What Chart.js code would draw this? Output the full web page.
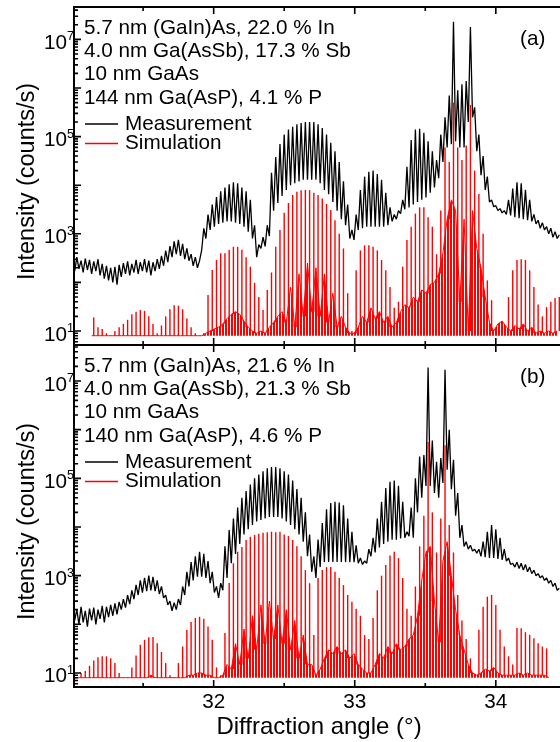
<!DOCTYPE html>
<html>
<head>
<meta charset="utf-8">
<script src="https://cdn.jsdelivr.net/npm/chart.js@4.4.1/dist/chart.umd.min.js"></script>
<style>
  html, body { margin: 0; padding: 0; background: #fff; }
  #wrap { position: relative; width: 560px; height: 742px; overflow: hidden; }
  canvas { position: absolute; left: 0; }
</style>
</head>
<body>
<div id="wrap">
  <canvas id="ca" width="560" height="350" style="top:0"></canvas>
  <canvas id="cb" width="560" height="402" style="top:340px"></canvas>
</div>
<script>
// diffraction angle grid (deg), fringe peaks on even entries, valleys on odd
const angle = [
  31,31.015,31.03,31.045,31.06,31.075,31.09,31.105,31.12,31.135,
  31.15,31.165,31.18,31.195,31.21,31.225,31.24,31.255,31.27,31.285,
  31.3,31.315,31.33,31.345,31.36,31.375,31.39,31.405,31.42,31.435,
  31.45,31.465,31.48,31.495,31.51,31.525,31.54,31.555,31.57,31.585,
  31.6,31.615,31.63,31.645,31.66,31.675,31.69,31.705,31.72,31.735,
  31.75,31.765,31.78,31.795,31.81,31.825,31.84,31.855,31.87,31.885,
  31.9,31.915,31.93,31.945,31.96,31.975,31.99,32.005,32.02,32.035,
  32.05,32.065,32.08,32.095,32.11,32.125,32.14,32.155,32.17,32.185,
  32.2,32.215,32.23,32.245,32.26,32.275,32.29,32.305,32.32,32.335,
  32.35,32.365,32.38,32.395,32.41,32.425,32.44,32.455,32.47,32.485,
  32.5,32.515,32.53,32.545,32.56,32.575,32.59,32.605,32.62,32.635,
  32.65,32.665,32.68,32.695,32.71,32.725,32.74,32.755,32.77,32.785,
  32.8,32.815,32.83,32.845,32.86,32.875,32.89,32.905,32.92,32.935,
  32.95,32.965,32.98,32.995,33.01,33.025,33.04,33.055,33.07,33.085,
  33.1,33.115,33.13,33.145,33.16,33.175,33.19,33.205,33.22,33.235,
  33.25,33.265,33.28,33.295,33.31,33.325,33.34,33.355,33.37,33.385,
  33.4,33.415,33.43,33.445,33.46,33.475,33.49,33.505,33.52,33.535,
  33.55,33.565,33.58,33.595,33.61,33.625,33.64,33.655,33.67,33.685,
  33.7,33.715,33.73,33.745,33.76,33.775,33.79,33.805,33.82,33.835,
  33.85,33.865,33.88,33.895,33.91,33.925,33.94,33.955,33.97,33.985,
  34,34.015,34.03,34.045,34.06,34.075,34.09,34.105,34.12,34.135,
  34.15,34.165,34.18,34.195,34.21,34.225,34.24,34.255,34.27,34.285,
  34.3,34.315,34.33,34.345,34.36,34.375,34.39,34.405,34.42,34.435,
  34.45
];

// panel (a)
const measA = [
  300,170,330,190,280,160,310,180,290,150,
  270,170,300,140,240,120,220,110,200,100,
  210,90,230,130,250,150,270,140,240,160,
  290,150,260,170,300,160,280,140,260,170,
  300,190,350,220,450,260,560,330,700,380,
  750,350,620,300,500,280,380,220,330,200,
  280,460,1300,800,2500,1200,4000,1400,5700,1600,
  7500,1700,9000,1800,10500,1800,11500,1700,11000,1600,
  9000,1400,7500,1100,5000,800,1500,330,600,500,
  850,550,1500,900,18000,3000,38000,4300,70000,6000,
  110000,8000,140000,10000,160000,11000,180000,12000,190000,13000,
  200000,13000,200000,13000,200000,13000,180000,11000,150000,8000,
  110000,6500,75000,4500,50000,3000,30000,2000,12000,1500,
  4000,800,1200,750,2500,1200,8000,1300,15000,1400,
  19000,1400,20000,1400,17000,1400,13000,1400,7000,1500,
  3500,1800,2500,2000,3000,2600,5000,3200,24000,3500,
  85000,4000,140000,4500,145000,5000,120000,5600,80000,7000,
  50000,9000,33000,14000,110000,30000,250000,60000,700000,70000,
  2.3e7,80000,900000,60000,1200000,60000,1400000,200000,1.8e7,250000,
  400000,50000,110000,16000,40000,8000,15000,4500,5000,3600,
  3800,3000,3300,2700,3000,2500,5000,2400,8500,2200,
  11500,2100,11000,2000,8000,1900,5000,1800,2500,1600,
  1900,1300,1700,1200,1400,1000,1300,850,1100,800,
  950
];
const simA = [
  null,null,null,null,null,null,null,null,null,8,
  19,8,12,8,11,8,9,8,8,8,
  10,8,12,8,14,8,17,8,22,8,
  25,8,27,8,26,8,20,8,14,8,
  9,8,13,8,20,8,28,8,34,8,
  33,8,28,8,18,8,12,8,9,8,
  8,8,9,9,55,10,180,11,290,12,
  400,14,400,18,470,22,540,25,540,22,
  470,16,330,12,210,10,98,9,50,10,
  27,9,70,12,160,15,540,20,1200,25,
  2700,15,4300,80,6300,12,7300,150,7900,20,
  8000,250,7900,25,7000,200,6300,20,5300,150,
  4100,15,3100,60,1900,12,1000,20,500,12,
  60,9,10,9,177,12,455,20,580,15,
  580,30,540,18,455,25,290,15,177,20,
  80,12,30,15,40,25,210,35,750,30,
  1400,50,2600,40,3500,70,3500,60,2200,90,
  1400,100,380,150,3000,400,60000,2000,30000,5000,
  500000,3000,60000,40,33000,2000,66000,10,450000,3000,
  20000,500,6600,200,1000,50,110,15,43,10,
  9,14,10,16,9,12,50,10,177,13,
  290,11,300,14,290,10,177,12,80,9,
  35,10,20,9,31,10,40,9,48,10,
  50
];

// panel (b)
const measB = [
  220,120,200,100,230,110,190,90,210,120,
  220,100,200,130,240,110,230,140,250,150,
  270,160,290,200,330,220,400,260,500,330,
  650,400,800,450,900,480,1000,500,950,480,
  800,420,600,350,400,250,300,190,280,200,
  330,250,600,400,1200,600,1900,800,2500,950,
  3100,950,2800,900,2000,700,1200,450,600,350,
  700,500,4000,900,8700,1800,15000,2800,25000,4500,
  40000,7000,55000,9000,75000,11000,100000,13000,120000,14000,
  140000,15000,160000,16000,170000,16000,170000,16000,160000,15000,
  140000,13000,120000,11000,90000,9000,60000,7000,40000,5000,
  20000,2500,7000,1200,2500,900,5500,1500,12000,1900,
  23000,1900,31000,1900,33000,1900,32000,1900,28000,1900,
  15000,1900,8000,1900,4200,1800,2300,1700,2000,1800,
  3500,2500,6000,3000,15000,3800,33000,4500,63000,5000,
  85000,5500,90000,5500,70000,5800,33000,6000,8000,6500,
  25000,6000,100000,20000,280000,40000,300000,70000,1.9e7,70000,
  600000,50000,220000,40000,260000,80000,1.7e7,150000,1000000,60000,
  240000,17000,50000,6000,11000,4000,5000,3500,4200,3200,
  3500,2900,3500,2500,5000,2400,8000,2300,11000,2300,
  9000,2200,6000,2100,3500,2000,2300,1700,1800,1500,
  1900,1400,1800,1300,1700,1200,1500,1100,1300,1000,
  1100,900,1000,800,900,700,800,600,700,500,
  550
];
const simB = [
  8,8,8,8,10,8,11,8,14,8,
  18,8,21,8,22,8,22,8,20,8,
  16,8,10,8,8,8,8,8,13,8,
  23,8,38,8,48,8,54,9,55,8,
  41,8,27,8,16,8,9,8,8,8,
  16,8,35,8,76,9,112,9,135,10,
  143,10,130,9,90,9,48,8,13,8,
  9,9,66,15,710,12,1800,40,3100,15,
  3900,80,5400,20,6300,150,6900,30,7300,250,
  7600,40,7800,300,8000,50,7800,250,8000,40,
  7000,200,6500,30,5400,120,4000,20,2500,60,
  1300,15,700,15,60,9,900,12,1300,20,
  1500,30,1500,25,1200,35,900,25,640,30,
  400,20,290,25,210,15,150,12,60,10,
  50,10,135,15,500,25,1000,20,1650,35,
  2600,25,3100,40,2300,30,900,35,210,50,
  150,60,600,150,4000,800,17000,3000,560000,4000,
  20000,300,3000,43,15000,2000,480000,5000,11000,1000,
  3000,200,400,60,120,30,50,15,20,10,
  9,9,77,10,230,12,370,11,400,13,
  250,10,77,9,35,9,22,9,15,9,
  84,10,83,9,69,10,61,9,52,9,
  41,9,35,9,32,8,null,null,null,null,
  null
];

const simFloor = 8;
const xMajor = [32, 33, 34];
const xMajorLabels = ['32', '33', '34'];
const xMinor = [31.5, 32.5, 33.5];
const yLabelExp = [1, 3, 5, 7];
const seriesNames = ['Measurement', 'Simulation'];
const infoA = ['5.7 nm (GaIn)As, 22.0 % In', '4.0 nm Ga(AsSb), 17.3 % Sb', '10 nm GaAs', '144 nm Ga(AsP), 4.1 % P'];
const infoB = ['5.7 nm (GaIn)As, 21.6 % In', '4.0 nm Ga(AsSb), 21.3 % Sb', '10 nm GaAs', '140 nm Ga(AsP), 4.6 % P'];

const FONT = '"Liberation Sans", Arial, Helvetica, sans-serif';
const RED = '#ff0000';

// hatch of thin red verticals, so the simulated background reads as dense noise
const hatchCanvas = document.createElement('canvas');
hatchCanvas.width = 3; hatchCanvas.height = 1;
const hctx = hatchCanvas.getContext('2d');
hctx.fillStyle = RED; hctx.fillRect(0, 0, 2, 1);
const hatch = hctx.createPattern(hatchCanvas, 'repeat');

function pts(ys) { return angle.map((a, i) => ({ x: a, y: ys[i] })); }

// simulation: thin spikes on the even entries, noisy floor through the odd ones
function spikes(sim) {
  const out = [];
  for (let i = 0; i < angle.length; i += 2) {
    const p = sim[i];
    if (p == null) continue;
    const l = sim[i - 1] != null ? sim[i - 1] : p;
    const r = sim[i + 1] != null ? sim[i + 1] : p;
    out.push({ x: angle[i], y: [Math.min(l, r, p), p] });
  }
  return out;
}
function floorLine(sim) {
  const out = [];
  for (let i = 1; i < angle.length; i += 2) out.push({ x: angle[i], y: sim[i] });
  return out;
}

function decor(info, tag, isBottom) {
  return {
    id: 'decor',
    afterDraw(chart) {
      const ctx = chart.ctx, a = chart.chartArea;
      const xs = chart.scales.x, ys = chart.scales.y;
      ctx.save();
      ctx.strokeStyle = '#000';
      ctx.lineWidth = 2;
      ctx.beginPath();
      ctx.moveTo(a.left, a.top); ctx.lineTo(a.right, a.top);
      ctx.moveTo(a.left, a.bottom); ctx.lineTo(a.right, a.bottom);
      ctx.moveTo(a.left, a.top - 1); ctx.lineTo(a.left, a.bottom + 1);
      ctx.stroke();

      // inward ticks
      ctx.lineWidth = 1.6;
      ctx.beginPath();
      const xt = (v, len) => {
        const px = xs.getPixelForValue(v);
        ctx.moveTo(px, a.top); ctx.lineTo(px, a.top + len);
        ctx.moveTo(px, a.bottom); ctx.lineTo(px, a.bottom - len);
      };
      xMajor.forEach(v => xt(v, 7));
      xMinor.forEach(v => xt(v, 4));
      for (let e = 0; e <= 7; e++) {
        for (let m = 1; m <= 9; m++) {
          const v = m * Math.pow(10, e);
          if (v < ys.min || v > ys.max) continue;
          const py = ys.getPixelForValue(v);
          ctx.moveTo(a.left, py); ctx.lineTo(a.left + (m === 1 ? 7 : 4), py);
        }
      }
      ctx.stroke();

      ctx.fillStyle = '#000';
      ctx.textBaseline = 'alphabetic';
      yLabelExp.forEach(e => {
        const py = ys.getPixelForValue(Math.pow(10, e));
        ctx.font = '20.7px ' + FONT; ctx.textAlign = 'right';
        ctx.fillText('10', 67, py + 9.5);
        ctx.font = '12.5px ' + FONT; ctx.textAlign = 'left';
        ctx.fillText(String(e), 67, py + 1);
      });

      ctx.save();
      ctx.translate(33.5, (a.top + a.bottom) / 2 + 5.5);
      ctx.rotate(-Math.PI / 2);
      ctx.font = '23.5px ' + FONT; ctx.textAlign = 'center';
      ctx.fillText('Intensity (counts/s)', 0, 0);
      ctx.restore();

      // sample description and legend
      ctx.font = '20.7px ' + FONT; ctx.textAlign = 'left';
      const offs = [26.5, 50, 73, 96.5];
      info.forEach((t, i) => ctx.fillText(t, 84, a.top + offs[i]));
      ctx.fillText(seriesNames[0], 125, a.top + 123);
      ctx.fillText(seriesNames[1], 125, a.top + 142);
      ctx.lineWidth = 1.3;
      ctx.strokeStyle = '#000';
      ctx.beginPath(); ctx.moveTo(85, a.top + 117); ctx.lineTo(118, a.top + 117); ctx.stroke();
      ctx.strokeStyle = RED;
      ctx.beginPath(); ctx.moveTo(85, a.top + 136.5); ctx.lineTo(118, a.top + 136.5); ctx.stroke();
      ctx.fillText(tag, 520, a.top + 38);

      if (isBottom) {
        ctx.textAlign = 'center';
        xMajor.forEach((v, i) => ctx.fillText(xMajorLabels[i], xs.getPixelForValue(v), a.bottom + 20.5));
        ctx.font = '24px ' + FONT;
        ctx.fillText('Diffraction angle (\u00b0)', 319, a.bottom + 46.5);
      }
      ctx.restore();
    }
  };
}

function makeChart(id, meas, sim, yMax, pad, info, tag, isBottom) {
  return new Chart(document.getElementById(id), {
    type: 'line',
    data: {
      datasets: [
        { label: seriesNames[0], data: pts(meas), borderColor: '#000', borderWidth: 1.3, order: 3 },
        { label: seriesNames[1], data: floorLine(sim), borderColor: RED, borderWidth: 1,
          fill: { value: simFloor }, backgroundColor: hatch, order: 2 },
        { type: 'bar', label: seriesNames[1] + ' peaks', data: spikes(sim), backgroundColor: RED,
          borderWidth: 0, barThickness: 1.4, inflateAmount: 0, grouped: false, order: 1 }
      ]
    },
    options: {
      responsive: false,
      animation: false,
      events: [],
      elements: { point: { radius: 0 }, line: { tension: 0, borderJoinStyle: 'bevel' } },
      layout: { padding: pad },
      plugins: { legend: { display: false }, tooltip: { enabled: false }, filler: { propagate: false } },
      scales: {
        x: { type: 'linear', min: 31.01, max: 34.455, bounds: 'data', offset: false, display: false },
        y: { type: 'logarithmic', min: Math.pow(10, 0.712), max: yMax, bounds: 'data', display: false }
      }
    },
    plugins: [decor(info, tag, isBottom)]
  });
}

makeChart('ca', measA, simA, Math.pow(10, 7.667), { left: 74, top: 7, right: 0, bottom: 5 }, infoA, '(a)', false);
makeChart('cb', measB, simB, Math.pow(10, 7.74), { left: 74, top: 5, right: 0, bottom: 55 }, infoB, '(b)', true);
</script>
</body>
</html>
